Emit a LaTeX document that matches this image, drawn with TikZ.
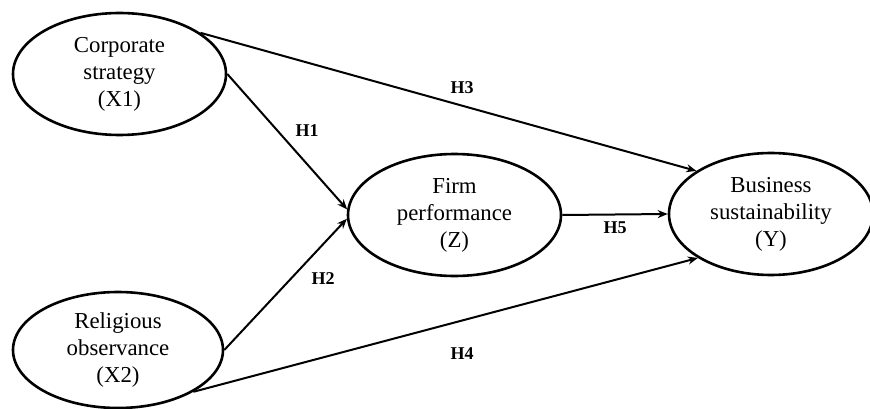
\documentclass[tikz,border=0pt]{standalone}
\usepackage{fontspec}
\setmainfont{Liberation Serif}
\usetikzlibrary{shapes.geometric,arrows.meta}
\tikzset{
  construct/.style={ellipse,draw=black,line width=2.6pt,inner sep=0pt,
    minimum width=213pt,minimum height=122pt,align=center,
    font=\fontsize{22.8pt}{27pt}\selectfont},
  hyp/.style={font=\fontsize{18pt}{20pt}\selectfont\bfseries,inner sep=0pt},
  path/.style={line width=2pt,-{Stealth[length=10pt,width=8pt]}}
}
\begin{document}
\begin{tikzpicture}[x=1pt,y=-1pt]
\useasboundingbox (0,0) rectangle (870,409);
\clip (0,0) rectangle (870,409);
\node[construct] (x1) at (119.5,74) {Corporate\\strategy\\(X1)};
\node[construct,minimum width=210pt,minimum height=116pt] (x2) at (118,350) {Religious\\observance\\(X2)};
\node[construct] (z) at (454.5,215) {Firm\\performance\\(Z)};
\node[construct,minimum width=204pt] (y) at (771,214) {Business\\sustainability\\(Y)};
\draw[path] (x1.27.5) -- (y.150);
\draw[path] (x1.0) -- (z.177);
\draw[path] (x2.0) -- (z.182);
\draw[path] (x2.-29.7) -- (y.211.4);
\draw[path] (z.east) -- (y.west);
\node[hyp] (h1) at (307,131) {H1};
\node[hyp] (h2) at (323,279) {H2};
\node[hyp] (h3) at (462,88) {H3};
\node[hyp] (h4) at (462,354) {H4};
\node[hyp] (h5) at (615,228) {H5};
\end{tikzpicture}
\end{document}
